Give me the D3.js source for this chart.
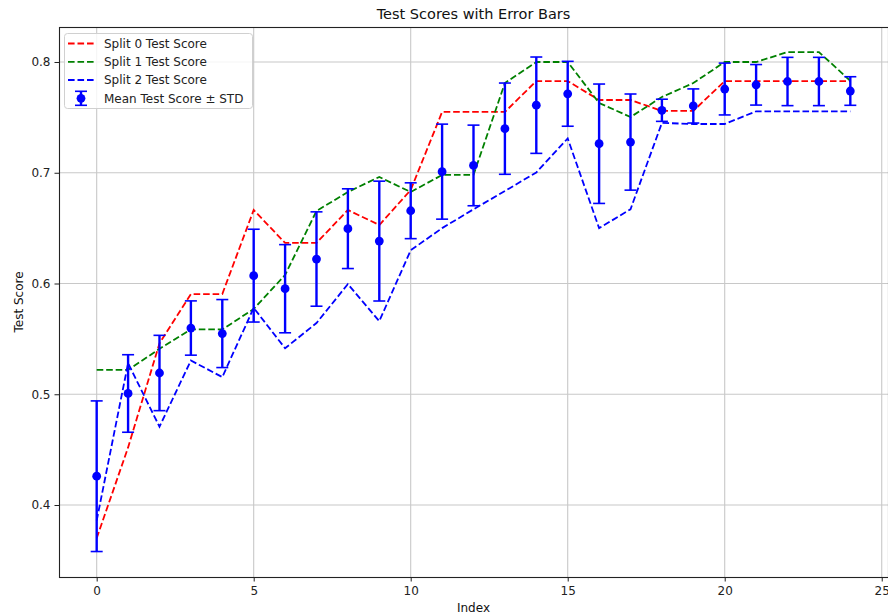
<!DOCTYPE html>
<html>
<head>
<meta charset="utf-8">
<script src="https://cdn.jsdelivr.net/npm/d3@7"></script>
<style>
  html, body { margin: 0; padding: 0; background: #fff; }
  svg { display: block; font-family: "DejaVu Sans", sans-serif; }
</style>
</head>
<body>
<svg id="chart" width="888" height="616"></svg>
<script>
// Per-split test scores for each index
const indices = d3.range(25);
const split0 = [0.370, 0.452, 0.546, 0.5905, 0.5905, 0.6664, 0.6366, 0.6366, 0.6664, 0.6528,
                0.6844, 0.7549, 0.7549, 0.7549, 0.7828, 0.7828, 0.7657, 0.7657, 0.7558, 0.7558,
                0.7828, 0.7828, 0.7828, 0.7828, 0.7828];
const split1 = [0.522, 0.522, 0.541, 0.5585, 0.5585, 0.577, 0.6077, 0.6655, 0.6826, 0.6962,
                0.6826, 0.698, 0.698, 0.781, 0.800, 0.800, 0.763, 0.7503, 0.7684, 0.781,
                0.800, 0.800, 0.809, 0.809, 0.783];
const split2 = [0.386, 0.528, 0.4707, 0.5305, 0.5155, 0.578, 0.5415, 0.5643, 0.5995, 0.566,
                0.630, 0.650, 0.667, 0.6835, 0.7003, 0.731, 0.650, 0.667, 0.745, 0.744,
                0.744, 0.7555, 0.7555, 0.7555, 0.7555];
// Mean score and standard deviation across the splits
const meanScore = [0.426, 0.5007, 0.5192, 0.5598, 0.5548, 0.6071, 0.5953, 0.6221, 0.6495, 0.6383,
                   0.6657, 0.7010, 0.7066, 0.7398, 0.7610, 0.7713, 0.7262, 0.7277, 0.7564, 0.7603,
                   0.7756, 0.7794, 0.7824, 0.7824, 0.7738];
const stdScore = [0.068, 0.0350, 0.0340, 0.0245, 0.0307, 0.0419, 0.0398, 0.0426, 0.0360, 0.0541,
                  0.0252, 0.0429, 0.0364, 0.0412, 0.0435, 0.0293, 0.0539, 0.0434, 0.0100, 0.0154,
                  0.0234, 0.0183, 0.0218, 0.0218, 0.0129];
const xTicks = [0, 5, 10, 15, 20, 25];
const yTicks = [0.4, 0.5, 0.6, 0.7, 0.8];

const splits = [
  { name: "Split 0 Test Score", values: split0, color: "#ff0000" },
  { name: "Split 1 Test Score", values: split1, color: "#008000" },
  { name: "Split 2 Test Score", values: split2, color: "#0000ff" }
];

const svg = d3.select("#chart");
const plot = { left: 59, right: 888, top: 27, bottom: 577 };

const x = d3.scaleLinear().domain([-1.2, 25.2]).range([plot.left, plot.right]);
const y = d3.scaleLinear().domain([0.335, 0.8316]).range([plot.bottom, plot.top]);

// Grid
const grid = svg.append("g");
grid.selectAll("line.gx").data(xTicks).join("line")
  .attr("x1", d => x(d)).attr("x2", d => x(d))
  .attr("y1", plot.top).attr("y2", plot.bottom)
  .attr("stroke", "#c8c8c8").attr("stroke-width", 1.1);
grid.selectAll("line.gy").data(yTicks).join("line")
  .attr("x1", plot.left).attr("x2", plot.right)
  .attr("y1", d => y(d)).attr("y2", d => y(d))
  .attr("stroke", "#c8c8c8").attr("stroke-width", 1.1);

// Axes
const xAxis = svg.append("g").attr("transform", `translate(0,${plot.bottom})`)
  .call(d3.axisBottom(x).tickValues(xTicks).tickFormat(d3.format("d")).tickSizeOuter(0).tickSize(4.5).tickPadding(4));
const yAxis = svg.append("g").attr("transform", `translate(${plot.left},0)`)
  .call(d3.axisLeft(y).tickValues(yTicks).tickFormat(d3.format(".1f")).tickSizeOuter(0).tickSize(4.5).tickPadding(4));
[xAxis, yAxis].forEach(a => {
  a.select(".domain").remove();
  a.selectAll("text").attr("font-size", 12).attr("fill", "#222").attr("font-family", "DejaVu Sans");
  a.selectAll("line").attr("stroke", "#222").attr("stroke-width", 1);
});
xAxis.selectAll("text").attr("dy", "0.8em");

// Split lines
const line = d3.line().x((d, i) => x(indices[i])).y(d => y(d));
splits.forEach(s => {
  svg.append("path").datum(s.values)
    .attr("d", line)
    .attr("fill", "none")
    .attr("stroke", s.color)
    .attr("stroke-width", 1.8)
    .attr("stroke-dasharray", "6.6,2.9");
});

// Error bars with mean markers
const eb = svg.append("g");
const cap = 6;
eb.selectAll("line.bar").data(indices).join("line")
  .attr("x1", i => x(i)).attr("x2", i => x(i))
  .attr("y1", i => y(meanScore[i] - stdScore[i]))
  .attr("y2", i => y(meanScore[i] + stdScore[i]))
  .attr("stroke", "#0000ff").attr("stroke-width", 2.4);
["lo", "hi"].forEach(side => {
  eb.selectAll("line.cap" + side).data(indices).join("line")
    .attr("x1", i => x(i) - cap).attr("x2", i => x(i) + cap)
    .attr("y1", i => y(meanScore[i] + (side === "hi" ? stdScore[i] : -stdScore[i])))
    .attr("y2", i => y(meanScore[i] + (side === "hi" ? stdScore[i] : -stdScore[i])))
    .attr("stroke", "#0000ff").attr("stroke-width", 1.6);
});
eb.selectAll("circle").data(indices).join("circle")
  .attr("cx", i => x(i)).attr("cy", i => y(meanScore[i]))
  .attr("r", 4.4).attr("fill", "#0000ff");

// Frame
svg.append("rect")
  .attr("x", plot.left + 0.5).attr("y", plot.top + 0.5)
  .attr("width", plot.right - plot.left).attr("height", plot.bottom - plot.top)
  .attr("fill", "none").attr("stroke", "#222").attr("stroke-width", 1.1);

// Title and axis labels
svg.append("text").attr("x", (plot.left + plot.right) / 2).attr("y", 19)
  .attr("text-anchor", "middle").attr("font-size", 14.5).attr("fill", "#111")
  .text("Test Scores with Error Bars");
svg.append("text").attr("x", (plot.left + plot.right) / 2).attr("y", 612)
  .attr("text-anchor", "middle").attr("font-size", 12).attr("fill", "#111")
  .text("Index");
svg.append("text")
  .attr("transform", `translate(23,${(plot.top + plot.bottom) / 2}) rotate(-90)`)
  .attr("text-anchor", "middle").attr("font-size", 12).attr("fill", "#111")
  .text("Test Score");

// Legend
const lg = svg.append("g").attr("transform", "translate(64,33)");
lg.append("rect").attr("x", 0.5).attr("y", 0.5).attr("width", 188).attr("height", 75)
  .attr("rx", 3).attr("fill", "#fff").attr("fill-opacity", 0.8)
  .attr("stroke", "#d0d0d0").attr("stroke-width", 1);
const rowY = [10.5, 28.8, 47, 65.3];
splits.forEach((s, k) => {
  lg.append("line").attr("x1", 4).attr("x2", 30).attr("y1", rowY[k]).attr("y2", rowY[k])
    .attr("stroke", s.color).attr("stroke-width", 1.8).attr("stroke-dasharray", "6.6,2.9");
  lg.append("text").attr("x", 40).attr("y", rowY[k]).attr("dy", "0.35em")
    .attr("font-size", 12).attr("fill", "#222").text(s.name);
});
const ly = rowY[3];
lg.append("line").attr("x1", 17).attr("x2", 17).attr("y1", ly - 7).attr("y2", ly + 7)
  .attr("stroke", "#0000ff").attr("stroke-width", 2.4);
[ly - 7, ly + 7].forEach(cy => lg.append("line").attr("x1", 11).attr("x2", 23)
  .attr("y1", cy).attr("y2", cy).attr("stroke", "#0000ff").attr("stroke-width", 1.6));
lg.append("circle").attr("cx", 17).attr("cy", ly).attr("r", 4.4).attr("fill", "#0000ff");
lg.append("text").attr("x", 40).attr("y", ly).attr("dy", "0.35em")
  .attr("font-size", 12).attr("fill", "#222").text("Mean Test Score \u00b1 STD");
</script>
</body>
</html>
